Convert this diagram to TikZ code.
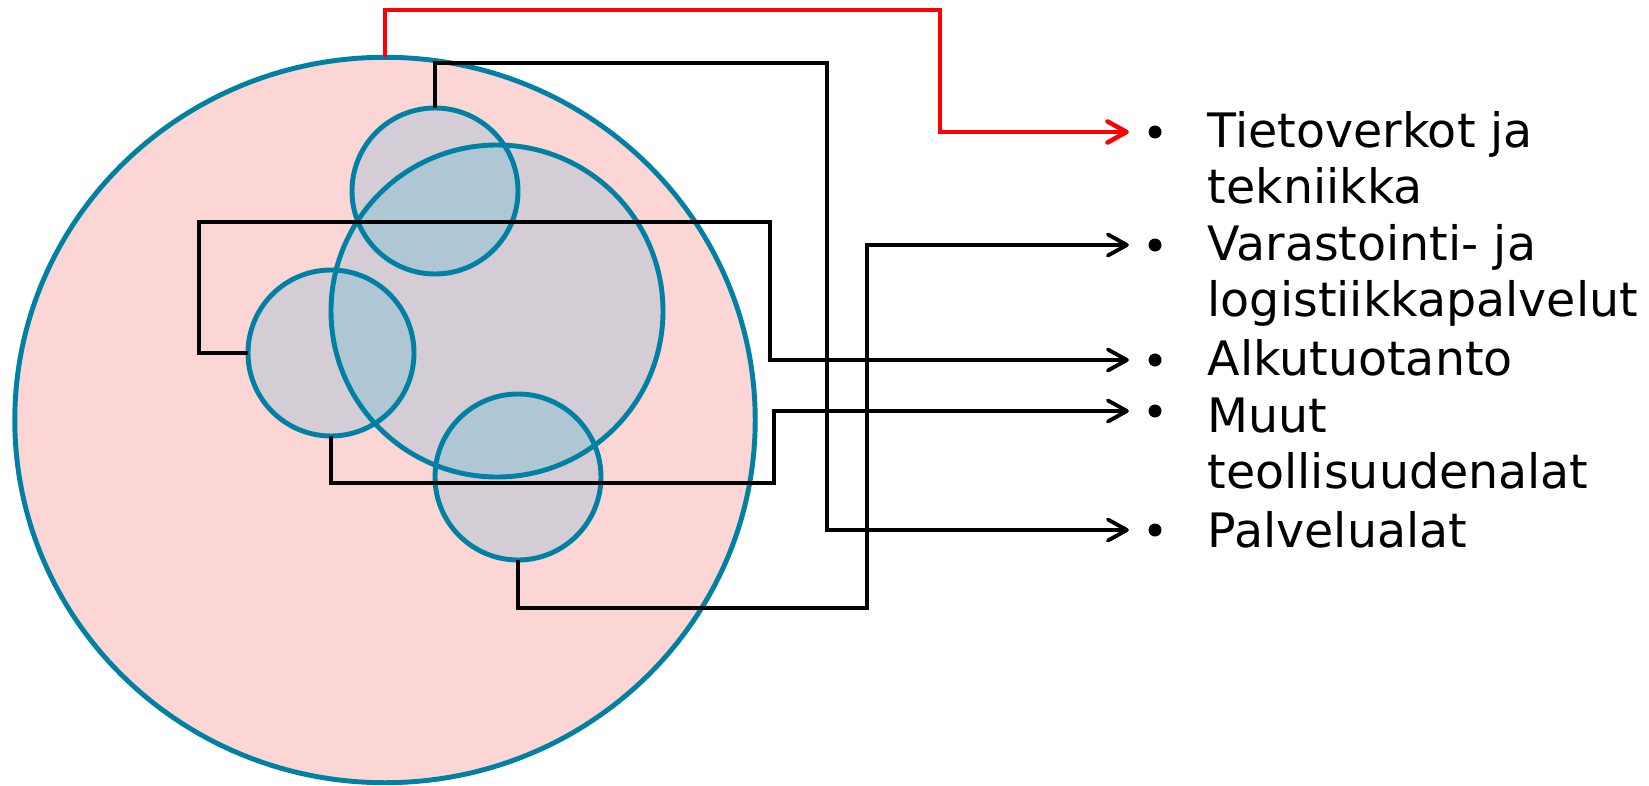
\documentclass[tikz,border=0pt]{standalone}
\usepackage{fontspec}
\setmainfont{DejaVu Sans}
\usetikzlibrary{arrows.meta,shapes.geometric}
\definecolor{ringteal}{RGB}{0,128,163}
\definecolor{outerpink}{RGB}{252,213,213}
\definecolor{innerlilac}{RGB}{213,205,214}
\definecolor{overlapblue}{RGB}{175,199,213}

\begin{document}
\begin{tikzpicture}[x=0.01cm,y=-0.01cm,
    disc/.style={circle,fill=innerlilac,inner sep=0pt,outer sep=0pt,minimum size=1.66cm},
    ringline/.style={draw=ringteal,line width=1.4pt},
    link/.style={line width=1.1pt,shorten >=0.19cm,-{Straight Barb[length=5.4pt,width=6pt,round]}},
    dot/.style={circle,fill=black,inner sep=0pt,minimum size=0.13cm},
    item/.style={anchor=base west,inner sep=0pt,font=\fontsize{13.5}{16.2}\selectfont}]

\def\LINECOLOR{black}
\def\HOTCOLOR{red}
	\useasboundingbox (0,0) rectangle (1649,785);

	% outer field
	\node[ellipse,ringline,fill=outerpink,inner sep=0pt,outer sep=0pt,
	      minimum width=7.4cm,minimum height=7.25cm] (field) at (385,420) {};

	% inner circles
	\node[disc,minimum size=3.32cm] (core) at (497,311) {};
	\node[disc] (north) at (435,191) {};
	\node[disc] (west) at (331,353) {};
	\node[disc] (south) at (518,477) {};
	\begin{scope}
		\clip (core.center) circle (166);
		\foreach \c in {north,west,south}
			\fill[overlapblue] (\c.center) circle (83);
	\end{scope}
	\foreach \c/\r in {core/166,north/83,west/83,south/83}
		\draw[ringline] (\c.center) circle (\r);

	% list
	\node[dot] (b1) at (1155,132) {};
	\node[dot] (b2) at (1155,245) {};
	\node[dot] (b3) at (1155,360) {};
	\node[dot] (b4) at (1155,411) {};
	\node[dot] (b5) at (1155,530) {};
	\node[item] (tieto) at (1207,147) {\begin{tabular}[t]{@{}l@{}}Tietoverkot ja\\tekniikka\end{tabular}};
	\node[item] (varasto) at (1207,260) {\begin{tabular}[t]{@{}l@{}}Varastointi- ja\\logistiikkapalvelut\end{tabular}};
	\node[item] (alku) at (1207,375) {Alkutuotanto};
	\node[item] (muut) at (1207,432) {\begin{tabular}[t]{@{}l@{}}Muut\\teollisuudenalat\end{tabular}};
	\node[item] (palvelu) at (1207,547) {Palvelualat};

	% connectors
	\draw[link,\HOTCOLOR,line width=1.3pt] (field.north) |- (940,10) |- (b1.west);
	\draw[link,\LINECOLOR] (north.north) |- (827,63) |- (b5.west);
	\draw[link,\LINECOLOR] (west.west) -| (199,222) -- (770,222) |- (b3.west);
	\draw[link,\LINECOLOR] (west.south) |- (774,483) |- (b4.west);
	\draw[link,\LINECOLOR] (south.south) |- (867,608) |- (b2.west);

\end{tikzpicture}
\end{document}
